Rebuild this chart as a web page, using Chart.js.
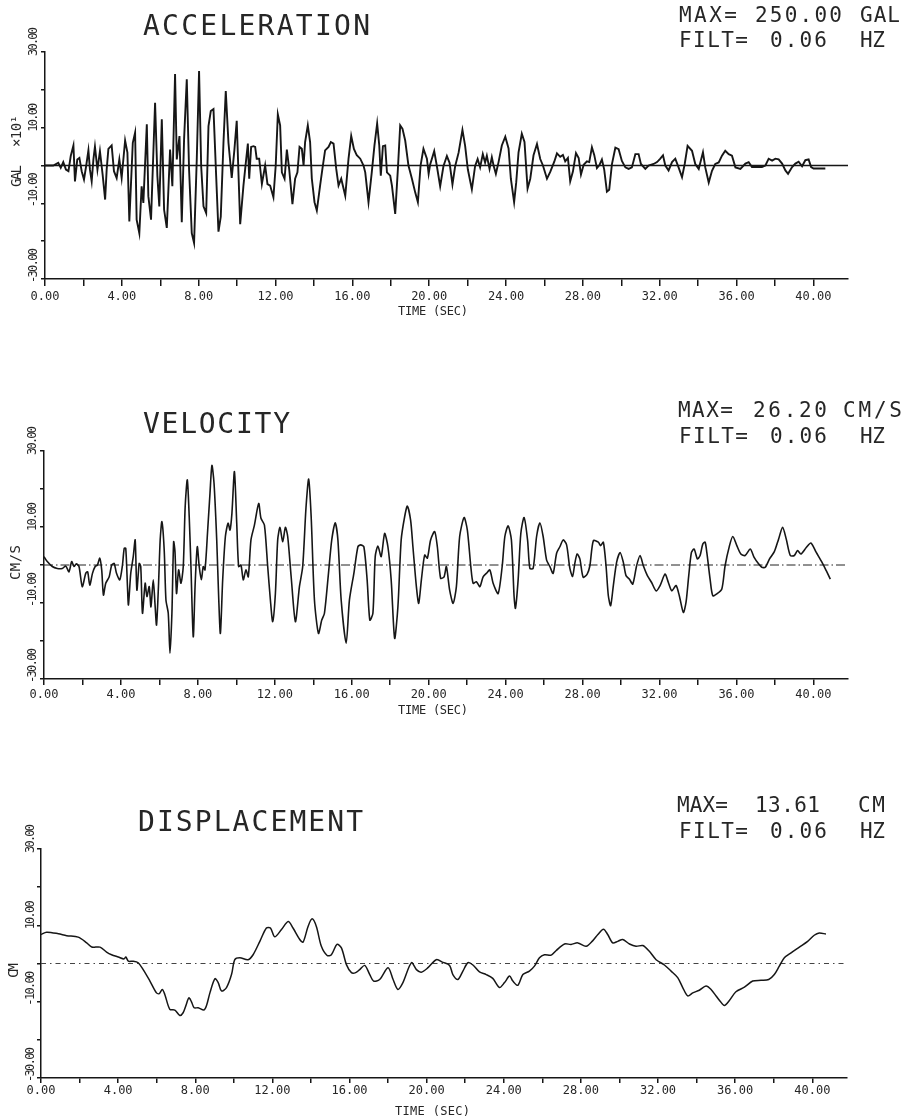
<!DOCTYPE html>
<html>
<head>
<meta charset="utf-8">
<title>Strong motion record</title>
<script src="https://cdn.jsdelivr.net/npm/chart.js@4.4.1/dist/chart.umd.min.js"></script>
<style>
  html, body { margin: 0; padding: 0; background: #fff; }
  body { position: relative; width: 909px; height: 1120px; overflow: hidden; }
  canvas { position: absolute; left: 0; display: block; }
</style>
</head>
<body>
<canvas id="accChart" width="909" height="330" style="top:0"></canvas>
<canvas id="velChart" width="909" height="350" style="top:370px"></canvas>
<canvas id="dispChart" width="909" height="360" style="top:760px"></canvas>

<script>
// time (s), acceleration (gal x 10)
const accSamples = [
  [0, 0], [0.43, 0], [0.69, 0.7], [0.82, -0.6], [0.95, 0.9], [1.09, -1.1], [1.22, -1.5], [1.34, 2.5], [1.48, 5.3], [1.56, -4.2],
  [1.68, 1.6], [1.79, 2.0], [1.91, -1.5], [2.03, -3.7], [2.14, -0.2], [2.26, 4.0], [2.34, -1.1], [2.43, -4.2], [2.52, 1.6], [2.60, 5.0],
  [2.73, -1.1], [2.86, 3.8], [3.00, -2.4], [3.13, -9.0], [3.21, -1.1], [3.30, 4.4], [3.47, 5.3], [3.59, -1.5], [3.73, -3.3], [3.87, 1.6],
  [3.99, -3.3], [4.17, 6.6], [4.29, 3.4], [4.39, -14.8], [4.57, 6.0], [4.69, 8.7], [4.77, -14.3], [4.91, -17.9], [5.03, -5.5], [5.12, -9.9],
  [5.30, 10.9], [5.38, -8.1], [5.52, -14.3], [5.73, 16.6], [5.85, -2.8], [5.95, -10.8], [6.08, 12.2], [6.20, -11.7], [6.34, -16.5], [6.51, 4.2],
  [6.63, -5.5], [6.77, 24.2], [6.86, 1.6], [7.00, 7.8], [7.12, -15.0], [7.24, 6.9], [7.38, 22.8], [7.50, -1.1], [7.64, -17.9], [7.76, -20.5],
  [7.90, 1.6], [8.02, 25.0], [8.13, -0.2], [8.25, -10.8], [8.39, -12.6], [8.51, 10.4], [8.63, 14.4], [8.77, 14.9], [8.91, -2.8], [9.03, -17.5],
  [9.15, -13.5], [9.29, 6.0], [9.41, 19.7], [9.55, 6.0], [9.72, -3.3], [9.86, 4.2], [9.98, 11.8], [10.16, -15.5], [10.33, -5.3], [10.42, -0.9],
  [10.56, 5.8], [10.63, -3.5], [10.73, 4.9], [10.85, 5.1], [10.94, 4.9], [11.02, 1.8], [11.15, 1.8], [11.29, -4.9], [11.46, 0], [11.58, -4.9],
  [11.72, -5.3], [11.89, -8.4], [12.01, 0], [12.12, 13.5], [12.24, 10.6], [12.33, -1.8], [12.47, -3.5], [12.59, 4.2], [12.71, -0.9], [12.88, -10.2],
  [13.02, -3.5], [13.14, -1.8], [13.25, 4.9], [13.37, 4.4], [13.46, 0], [13.54, 6.2], [13.68, 10.6], [13.80, 6.2], [13.89, -3.5], [14.03, -9.7],
  [14.15, -11.9], [14.32, -5.3], [14.44, -0.9], [14.58, 4.0], [14.76, 4.9], [14.88, 6.2], [15.02, 5.8], [15.16, -0.9], [15.28, -5.3], [15.42, -3.5],
  [15.63, -8.0], [15.80, 1.8], [15.94, 7.8], [16.08, 4.4], [16.23, 2.7], [16.41, 1.8], [16.58, 0], [16.67, -1.8], [16.84, -9.7], [17.01, -1.8],
  [17.15, 5.3], [17.29, 11.1], [17.40, 5.3], [17.48, -2.7], [17.59, 5.1], [17.71, 5.3], [17.80, -1.8], [17.97, -2.7], [18.06, -5.3], [18.23, -12.8],
  [18.37, -0.9], [18.49, 10.6], [18.61, 9.7], [18.75, 6.6], [18.92, 0], [19.10, -3.5], [19.27, -7.1], [19.41, -9.7], [19.55, 0], [19.70, 4.4],
  [19.88, 1.8], [19.97, -2.2], [20.05, 0.3], [20.26, 3.8], [20.40, -0.2], [20.57, -5.5], [20.74, -0.2], [20.92, 2.5], [21.06, 0.7], [21.21, -5.0],
  [21.35, -0.2], [21.53, 3.4], [21.73, 9.4], [21.87, 5.2], [22.01, -1.0], [22.22, -6.3], [22.39, -0.1], [22.52, 1.7], [22.65, -0.5], [22.79, 3.0],
  [22.91, 0.8], [23.00, 2.6], [23.14, -0.9], [23.26, 2.2], [23.35, 0], [23.47, -2.2], [23.61, 0.9], [23.78, 5.3], [23.96, 7.6], [24.13, 4.5],
  [24.25, -3.5], [24.42, -9.7], [24.53, -4.4], [24.65, 3.5], [24.82, 8.4], [24.96, 6.2], [25.12, -6.1], [25.26, -3.5], [25.43, 2.7], [25.61, 5.7],
  [25.78, 1.7], [25.92, 0], [26.13, -3.5], [26.30, -1.7], [26.51, 1.0], [26.65, 3.2], [26.82, 2.3], [26.96, 2.8], [27.08, 1.1], [27.22, 2.0],
  [27.34, -4.2], [27.48, -1.6], [27.64, 3.3], [27.78, 2.0], [27.90, -2.4], [28.04, 0.2], [28.21, 1.1], [28.33, 0.9], [28.47, 4.8], [28.59, 2.8],
  [28.73, -0.7], [28.87, 0.2], [28.99, 1.6], [29.11, -1.1], [29.25, -6.9], [29.37, -6.4], [29.51, 0.3], [29.69, 4.7], [29.86, 4.3], [30.03, 1.2],
  [30.21, -0.5], [30.38, -0.9], [30.55, -0.5], [30.73, 3.0], [30.90, 3.0], [31.02, 0.4], [31.25, -0.9], [31.42, 0], [31.68, 0.4], [31.86, 0.9],
  [32.03, 1.8], [32.17, 2.7], [32.29, 0], [32.46, -1.3], [32.64, 0.9], [32.81, 1.8], [32.98, -0.5], [33.16, -3.1], [33.30, 0.4], [33.45, 5.2],
  [33.68, 3.9], [33.85, 0.4], [34.03, -0.9], [34.25, 3.5], [34.37, -0.5], [34.55, -4.5], [34.72, -1.4], [34.89, 0.4], [35.07, 0.8], [35.24, 2.6],
  [35.41, 3.9], [35.59, 3.0], [35.76, 2.6], [35.94, -0.5], [36.20, -0.9], [36.46, 0.5], [36.63, 0.9], [36.80, -0.4], [37.06, -0.4], [37.32, -0.4],
  [37.50, 0], [37.67, 1.8], [37.85, 1.3], [38.02, 1.8], [38.19, 1.6], [38.37, 0.5], [38.54, -1.3], [38.68, -2.2], [38.89, -0.4], [39.06, 0.5],
  [39.23, 1.0], [39.41, -0.2], [39.58, 1.4], [39.75, 1.6], [39.88, -0.4], [40.01, -0.8], [40.62, -0.8]
];

// time (s), velocity (cm/s)
const velSamples = [
  [0, 2.2], [0.17, 0.9], [0.43, -0.4], [0.69, -0.9], [0.95, -0.9], [1.13, -0.3], [1.30, -1.8], [1.44, 0.9], [1.56, -0.4], [1.68, 0.3],
  [1.82, -0.4], [1.99, -5.7], [2.17, -2.2], [2.27, -1.8], [2.38, -5.3], [2.52, -2.2], [2.66, -0.4], [2.78, 0], [2.90, 1.8], [3.00, -1.3],
  [3.09, -7.9], [3.21, -4.8], [3.39, -3.1], [3.52, 0], [3.65, 0.4], [3.77, -2.2], [3.94, -3.9], [4.08, 0], [4.17, 4.4], [4.25, 4.4],
  [4.34, -5.7], [4.39, -10.5], [4.51, -2.2], [4.64, 2.2], [4.74, 6.6], [4.83, -6.6], [4.95, 0.4], [5.03, -0.4], [5.12, -12.7], [5.26, -4.8],
  [5.35, -8.3], [5.47, -5.7], [5.56, -11.0], [5.68, -3.9], [5.78, -11.0], [5.85, -15.8], [5.95, -5.7], [6.04, 6.6], [6.13, 11.4], [6.25, 3.9],
  [6.34, -9.2], [6.46, -12.7], [6.55, -23.2], [6.65, -12.7], [6.74, 6.1], [6.81, 3.5], [6.89, -7.5], [7.00, -1.3], [7.12, -4.8], [7.24, -0.4],
  [7.34, 15.4], [7.45, 22.4], [7.55, 12.7], [7.64, -0.4], [7.76, -18.9], [7.86, -4.8], [7.97, 4.8], [8.07, -0.4], [8.18, -3.9], [8.28, -0.4],
  [8.37, -1.3], [8.51, 9.2], [8.63, 18.9], [8.73, 26.2], [8.84, 21.5], [8.98, 6.6], [9.08, -8.3], [9.17, -18.0], [9.29, -3.9], [9.43, 7.5],
  [9.57, 11.0], [9.67, 9.2], [9.77, 13.6], [9.90, 24.6], [10.02, 11.0], [10.12, -0.4], [10.24, 0], [10.36, -3.9], [10.50, -1.3], [10.62, -3.1],
  [10.76, 6.6], [10.94, 10.5], [11.16, 16.2], [11.28, 12.3], [11.46, 10.5], [11.63, -0.4], [11.77, -9.2], [11.89, -14.9], [12.03, -7.5], [12.15, 6.6],
  [12.27, 9.9], [12.41, 6.1], [12.55, 9.9], [12.67, 7.5], [12.85, -3.1], [13.07, -14.9], [13.28, -5.7], [13.45, -0.4], [13.62, 15.0], [13.76, 22.6],
  [13.89, 12.7], [14.06, -9.2], [14.27, -18.0], [14.44, -14.5], [14.58, -12.7], [14.79, -2.2], [14.96, 6.6], [15.14, 11.1], [15.28, 6.6], [15.45, -9.2],
  [15.71, -20.6], [15.88, -9.2], [16.11, -2.2], [16.32, 4.8], [16.46, 5.3], [16.63, 4.8], [16.80, -3.9], [16.94, -14.5], [17.10, -12.7], [17.22, 2.2],
  [17.36, 5.0], [17.53, 2.2], [17.71, 8.3], [17.88, 4.8], [18.05, -3.9], [18.23, -19.3], [18.40, -11.0], [18.57, 6.6], [18.75, 12.7], [18.89, 15.5],
  [19.06, 11.8], [19.18, 4.8], [19.36, -5.7], [19.48, -10.1], [19.62, -3.9], [19.79, 2.6], [19.93, 1.8], [20.10, 6.6], [20.31, 8.8], [20.45, 4.8],
  [20.62, -3.5], [20.80, -3.1], [20.92, -0.4], [21.09, -6.6], [21.27, -10.1], [21.44, -5.7], [21.61, 7.5], [21.84, 12.5], [22.01, 9.2], [22.19, -0.4],
  [22.31, -4.8], [22.48, -4.4], [22.66, -5.7], [22.83, -3.1], [23.00, -2.2], [23.18, -1.3], [23.35, -4.8], [23.61, -7.5], [23.82, -0.4], [23.96, 7.5],
  [24.13, 10.3], [24.30, 6.6], [24.44, -8.3], [24.51, -11.4], [24.65, -3.9], [24.79, 8.3], [24.96, 12.5], [25.14, 6.6], [25.26, -0.9], [25.43, -0.9],
  [25.61, 7.5], [25.78, 11.1], [25.95, 7.5], [26.13, 1.3], [26.30, -0.4], [26.47, -2.2], [26.65, 3.1], [26.82, 4.8], [26.99, 6.6], [27.17, 5.3],
  [27.34, -0.9], [27.48, -3.0], [27.60, 0.5], [27.72, 2.9], [27.86, 1.6], [28.03, -3.2], [28.24, -2.4], [28.38, -0.2], [28.56, 6.4], [28.82, 6.0],
  [28.94, 5.1], [29.08, 6.0], [29.22, -0.2], [29.34, -8.1], [29.46, -10.7], [29.60, -5.4], [29.77, 0.7], [29.95, 3.3], [30.12, 0.7], [30.26, -2.8],
  [30.43, -3.7], [30.61, -5.0], [30.81, -0.2], [30.99, 2.5], [31.16, -0.2], [31.37, -2.8], [31.59, -4.6], [31.82, -6.8], [32.03, -5.4], [32.29, -2.4],
  [32.46, -4.6], [32.64, -6.8], [32.86, -5.4], [33.03, -8.1], [33.24, -12.5], [33.38, -9.8], [33.52, -2.8], [33.66, 3.3], [33.80, 4.2], [33.97, 1.6],
  [34.11, 2.5], [34.25, 5.5], [34.37, 6.0], [34.46, 3.3], [34.63, -3.7], [34.77, -8.1], [34.98, -7.6], [35.24, -6.3], [35.41, -0.2], [35.64, 5.1],
  [35.81, 7.5], [36.02, 5.1], [36.23, 2.9], [36.45, 2.5], [36.72, 4.2], [36.92, 2.0], [37.15, 0.3], [37.32, -0.6], [37.50, -0.6], [37.72, 1.6],
  [37.97, 3.5], [38.19, 6.8], [38.40, 9.9], [38.59, 6.8], [38.80, 2.5], [39.01, 2.5], [39.18, 3.8], [39.35, 2.9], [39.63, 4.6], [39.87, 5.8],
  [40.15, 3.3], [40.45, 0.7], [40.67, -1.5], [40.88, -3.7]
];

// time (s), displacement (cm)
const dispSamples = [
  [0, 7.6], [0.29, 8.2], [0.90, 7.8], [1.33, 7.3], [1.93, 6.9], [2.37, 5.4], [2.63, 4.3], [3.06, 4.3], [3.40, 3.0], [3.66, 2.3],
  [4.01, 1.7], [4.30, 1.2], [4.40, 1.7], [4.53, 0.6], [4.78, 0.6], [5.04, 0.2], [5.30, -1.6], [5.65, -4.6], [5.99, -7.7], [6.13, -7.9],
  [6.29, -6.8], [6.42, -8.1], [6.68, -12.0], [6.94, -12.2], [7.20, -13.61], [7.37, -12.9], [7.51, -11.1], [7.67, -9.0], [7.81, -10.1], [7.94, -11.6],
  [8.15, -11.6], [8.45, -12.2], [8.58, -11.1], [8.76, -7.7], [9.02, -4.0], [9.19, -5.0], [9.36, -7.2], [9.62, -6.3], [9.88, -2.9], [10.05, 1.0],
  [10.31, 1.5], [10.74, 1.0], [11.00, 2.3], [11.35, 5.8], [11.69, 9.3], [11.90, 9.3], [12.12, 7.0], [12.47, 8.9], [12.82, 11.0], [13.07, 9.3],
  [13.42, 6.3], [13.59, 5.6], [13.85, 9.7], [14.06, 11.7], [14.28, 9.7], [14.54, 4.5], [14.84, 2.1], [15.06, 2.3], [15.35, 5.0], [15.58, 4.1],
  [15.84, -0.3], [16.10, -2.4], [16.32, -2.4], [16.53, -1.6], [16.79, -0.5], [17.05, -2.9], [17.25, -4.6], [17.56, -4.2], [18.00, -1.1], [18.26, -4.2],
  [18.51, -6.8], [18.77, -5.0], [19.21, 0.2], [19.47, -1.6], [19.72, -2.3], [20.07, -1.1], [20.50, 1.0], [20.85, 0.3], [21.19, -0.5], [21.36, -2.9],
  [21.62, -4.2], [21.88, -2.0], [22.14, 0.2], [22.40, -0.4], [22.74, -2.2], [23.09, -2.9], [23.43, -3.9], [23.78, -6.3], [24.04, -5.0], [24.30, -3.3],
  [24.47, -4.6], [24.73, -5.7], [24.99, -2.9], [25.33, -2.0], [25.59, -0.7], [25.85, 1.5], [26.11, 2.3], [26.46, 2.2], [26.72, 3.4], [27.15, 5.1],
  [27.49, 5.0], [27.84, 5.4], [28.27, 4.5], [28.62, 6.0], [28.88, 7.6], [29.17, 9.0], [29.39, 7.6], [29.65, 5.4], [29.91, 5.8], [30.17, 6.3],
  [30.52, 5.1], [30.86, 4.5], [31.21, 4.7], [31.55, 3.2], [31.90, 1.0], [32.33, -0.4], [32.68, -2.0], [33.02, -3.7], [33.28, -6.3], [33.54, -8.5],
  [33.80, -7.7], [34.14, -7.0], [34.49, -5.9], [34.75, -6.8], [35.01, -8.5], [35.21, -9.8], [35.44, -11.0], [35.70, -9.7], [36.04, -7.4], [36.48, -6.2],
  [36.91, -4.6], [37.34, -4.4], [37.74, -4.2], [38.03, -2.9], [38.29, -0.7], [38.55, 1.5], [38.90, 2.8], [39.33, 4.3], [39.76, 5.8], [40.10, 7.4],
  [40.36, 8.0], [40.71, 7.7]
];

const timeTickLabels = ['0.00', '4.00', '8.00', '12.00', '16.00', '20.00', '24.00', '28.00', '32.00', '36.00', '40.00'];
const ampTickLabels = ['30.00', '10.00', '-10.00', '-30.00'];
const filterHz = '0.06';
const timeMax = 41.8;

const ink = '#161616';
const textInk = '#262626';
const plotFont = '"DejaVu Sans Mono", "Liberation Mono", monospace';

const peak = samples => Math.max(...samples.map(p => Math.abs(p[1])));

// draw a string so that it runs from x0 to x1, spreading the gaps evenly
function spacedText(ctx, text, x0, x1, y, size) {
  ctx.font = `${size}px ${plotFont}`;
  const chars = [...text];
  const widths = chars.map(c => ctx.measureText(c).width);
  const total = widths.reduce((a, b) => a + b, 0);
  const gap = chars.length > 1 ? (x1 - x0 - total) / (chars.length - 1) : 0;
  let x = x0;
  chars.forEach((c, i) => {
    ctx.fillText(c, x, y);
    x += widths[i] + gap;
  });
}

// titles, header lines, rotated amplitude labels and unit text
function panelText(panel) {
  return {
    id: 'panelText',
    afterDraw(chart) {
      const ctx = chart.ctx;
      const yScale = chart.scales.y;
      ctx.save();
      ctx.fillStyle = textInk;
      ctx.textAlign = 'left';
      ctx.textBaseline = 'alphabetic';
      panel.texts.forEach(t => spacedText(ctx, t.text, t.x0, t.x1, t.y - panel.top, t.size));

      ctx.textBaseline = 'middle';
      ampTickLabels.forEach(label => {
        const py = yScale.getPixelForValue(parseFloat(label));
        const len = label.length > 5 ? 35 : 29;
        ctx.save();
        ctx.translate(panel.ampLabelX, py + 4);
        ctx.rotate(-Math.PI / 2);
        spacedText(ctx, label, 0, len, 0, 12);
        ctx.restore();
      });

      panel.units.forEach(u => {
        ctx.save();
        ctx.translate(u.x, u.y0 - panel.top);
        ctx.rotate(-Math.PI / 2);
        spacedText(ctx, u.text, 0, u.y0 - u.y1, 0, u.size);
        ctx.restore();
      });
      ctx.restore();
    }
  };
}

function makePanel(id, samples, panel) {
  const canvas = document.getElementById(id);
  new Chart(canvas, {
    type: 'line',
    data: {
      datasets: [
        {
          data: samples.map(([x, y]) => ({ x, y })),
          borderColor: ink,
          borderWidth: panel.traceWidth,
          tension: panel.tension,
          pointRadius: 0,
          order: 0
        },
        {
          data: [{ x: 0, y: 0 }, { x: timeMax, y: 0 }],
          borderColor: panel.zeroColor,
          borderWidth: panel.zeroWidth,
          borderDash: panel.zeroDash,
          pointRadius: 0,
          order: 1
        }
      ]
    },
    options: {
      responsive: false,
      animation: false,
      events: [],
      layout: { padding: { top: panel.area.top - panel.top, right: 909 - panel.area.right, left: 0, bottom: 0 } },
      plugins: { legend: { display: false }, tooltip: { enabled: false } },
      scales: {
        x: {
          type: 'linear',
          min: 0,
          max: timeMax,
          afterFit: s => { s.height = canvas.height - (panel.area.bottom - panel.top); },
          border: { display: true, color: ink, width: 1.5 },
          grid: { drawOnChartArea: false, drawTicks: true, tickLength: panel.tickLength, color: ink, lineWidth: 1.5 },
          ticks: {
            stepSize: 2,
            includeBounds: false,
            autoSkip: false,
            maxRotation: 0,
            padding: panel.tickPad,
            color: textInk,
            font: { family: plotFont, size: 12 },
            callback: v => {
              const s = Number(v).toFixed(2);
              return timeTickLabels.includes(s) ? s : '';
            }
          }
        },
        y: {
          min: -30,
          max: 30,
          afterFit: s => { s.width = panel.area.left; },
          border: { display: true, color: ink, width: 1.5 },
          grid: { drawOnChartArea: false, drawTicks: true, tickLength: 4, color: ink, lineWidth: 1.5 },
          ticks: { stepSize: 10, callback: () => '' }
        }
      }
    },
    plugins: [panelText(panel)]
  });
}

function header(title, titleSpan, titleY, maxText, unit, pieces, rowY) {
  return [
    { text: title, x0: titleSpan[0], x1: titleSpan[1], y: titleY, size: 28 },
    { text: 'MAX=', x0: pieces.label[0], x1: pieces.label[1], y: rowY[0], size: 21 },
    { text: maxText, x0: pieces.value[0], x1: pieces.value[1], y: rowY[0], size: 21 },
    { text: unit, x0: pieces.unit[0], x1: pieces.unit[1], y: rowY[0], size: 21 },
    { text: 'FILT=', x0: 679, x1: 748, y: rowY[1], size: 21 },
    { text: filterHz, x0: 770, x1: 827, y: rowY[1], size: 21 },
    { text: 'HZ', x0: 860, x1: 885, y: rowY[1], size: 21 }
  ];
}

makePanel('accChart', accSamples, {
  top: 0,
  area: { left: 45, top: 52, right: 848, bottom: 279 },
  tickLength: 7, tickPad: 4, ampLabelX: 34,
  traceWidth: 1.9, tension: 0,
  zeroColor: ink, zeroWidth: 1.6, zeroDash: [],
  texts: [
    ...header('ACCELERATION', [143, 370], 35, (peak(accSamples) * 10).toFixed(2), 'GAL',
      { label: [679, 737], value: [755, 842], unit: [860, 900] }, [22, 47]),
    { text: 'TIME (SEC)', x0: 398, x1: 468, y: 315, size: 12 }
  ],
  units: [
    { text: 'GAL', x: 17, y0: 187, y1: 165, size: 14 },
    { text: '×10¹', x: 17, y0: 147, y1: 115, size: 14 }
  ]
});

makePanel('velChart', velSamples, {
  top: 370,
  area: { left: 44, top: 451, right: 848, bottom: 679 },
  tickLength: 6, tickPad: 3, ampLabelX: 33,
  traceWidth: 1.6, tension: 0.25,
  zeroColor: '#222', zeroWidth: 1, zeroDash: [9, 3, 1.5, 3],
  texts: [
    ...header('VELOCITY', [143, 290], 433, peak(velSamples).toFixed(2), 'CM/S',
      { label: [678, 733], value: [753, 827], unit: [843, 902] }, [417, 443]),
    { text: 'TIME (SEC)', x0: 398, x1: 468, y: 714, size: 12 }
  ],
  units: [
    { text: 'CM/S', x: 16, y0: 580, y1: 545, size: 14 }
  ]
});

makePanel('dispChart', dispSamples, {
  top: 760,
  area: { left: 41, top: 849, right: 847, bottom: 1078 },
  tickLength: 5, tickPad: 1, ampLabelX: 31,
  traceWidth: 1.5, tension: 0.3,
  zeroColor: '#444', zeroWidth: 1, zeroDash: [5, 4, 1.5, 4],
  texts: [
    ...header('DISPLACEMENT', [138, 363], 831, peak(dispSamples).toFixed(2), 'CM',
      { label: [677, 728], value: [755, 820], unit: [858, 885] }, [812, 838]),
    { text: 'TIME (SEC)', x0: 395, x1: 470, y: 1115, size: 12 }
  ],
  units: [
    { text: 'CM', x: 14, y0: 978, y1: 963, size: 14 }
  ]
});
</script>
</body>
</html>
